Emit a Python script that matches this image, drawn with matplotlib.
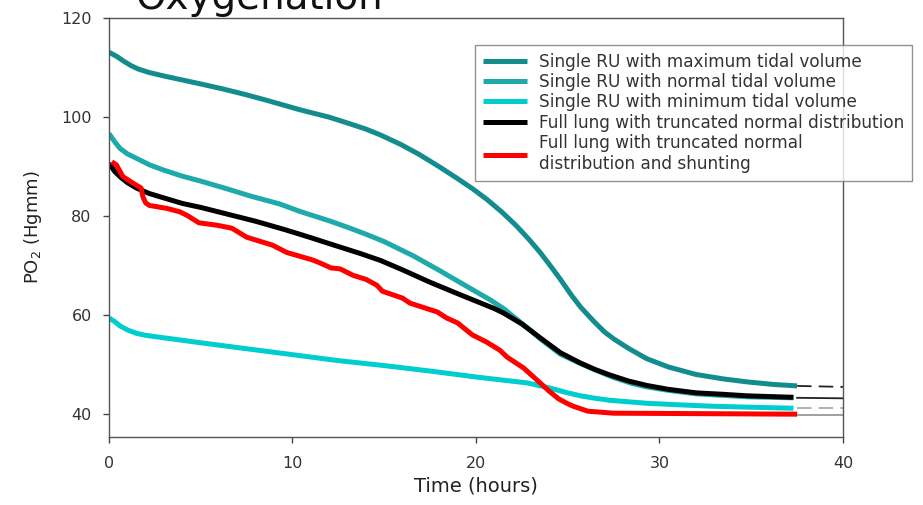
import matplotlib
matplotlib.use("Agg")
import matplotlib.pyplot as plt

# values (time in hours, PO2 in Hgmm)
max_x = [0.0, 0.4, 0.8, 1.2, 1.6, 2.2, 3.0, 4.0, 5.0, 6.2, 7.4, 8.6, 10.4, 12.0, 13.1,
         14.0, 14.8, 15.9, 16.9, 18.0, 19.0, 19.8, 20.6, 21.4, 22.2, 22.9, 23.5, 24.1,
         24.6, 25.2, 25.7, 26.4, 27.0, 27.5, 28.3, 29.3, 30.5, 32.0, 33.5, 34.8, 36.2,
         37.5]
max_y = [113.0, 112.2, 111.2, 110.3, 109.6, 108.9, 108.2, 107.4, 106.6, 105.6, 104.5,
         103.3, 101.4, 99.9, 98.6, 97.5, 96.3, 94.4, 92.4, 89.9, 87.5, 85.5, 83.3, 80.8,
         78.0, 75.2, 72.6, 69.7, 67.2, 64.0, 61.6, 58.8, 56.6, 55.2, 53.3, 51.2, 49.5,
         48.0, 47.1, 46.5, 46.0, 45.7]

norm_x = [0.0, 0.3, 0.6, 1.0, 1.5, 2.2, 3.0, 4.0, 5.0, 6.3, 7.7, 9.3, 10.4, 12.0, 13.0,
          14.0, 15.0, 16.6, 18.0, 19.3, 20.8, 21.5, 22.2, 23.0, 23.5, 24.6, 25.7, 26.5,
          27.5, 28.5, 29.3, 30.5, 32.0, 34.8, 37.3]
norm_y = [96.6, 95.0, 93.6, 92.5, 91.6, 90.3, 89.2, 88.0, 87.0, 85.6, 84.0, 82.4, 80.9,
          79.0, 77.7, 76.3, 74.8, 71.9, 69.0, 66.2, 63.0, 61.3, 59.2, 56.8, 55.2, 52.1,
          50.2, 48.9, 47.4, 46.2, 45.5, 44.8, 44.1, 43.5, 43.3]

min_x = [0.0, 0.3, 0.6, 1.0, 1.5, 2.0, 3.0, 5.0, 7.5, 10.0, 12.5, 15.0, 17.5, 20.0,
         22.8, 24.0, 25.0, 25.7, 26.5, 27.3, 29.3, 31.0, 32.9, 35.0, 37.3]
min_y = [59.4, 58.7, 57.8, 57.0, 56.3, 55.9, 55.4, 54.4, 53.2, 52.0, 50.8, 49.8, 48.7,
         47.5, 46.3, 45.3, 44.3, 43.7, 43.2, 42.8, 42.2, 41.9, 41.6, 41.4, 41.2]

full_x = [0.0, 0.3, 0.6, 1.0, 1.5, 2.2, 3.0, 4.0, 5.0, 6.5, 8.0, 9.6, 11.0, 12.0, 13.7,
          14.8, 16.0, 17.5, 19.0, 20.0, 21.0, 21.5, 22.5, 23.5, 24.6, 25.7, 26.5, 27.3,
          28.3, 29.3, 30.5, 32.0, 33.5, 34.8, 37.3]
full_y = [90.6, 89.0, 87.9, 86.7, 85.6, 84.5, 83.6, 82.5, 81.7, 80.3, 78.9, 77.2, 75.6,
          74.4, 72.4, 71.0, 69.1, 66.6, 64.3, 62.8, 61.3, 60.4, 58.2, 55.4, 52.4, 50.3,
          49.0, 47.9, 46.7, 45.8, 45.0, 44.3, 44.0, 43.7, 43.4]

shunt_x = [0.15, 0.4, 0.76, 1.31, 1.75, 1.85, 2.0, 2.2, 3.16, 3.87, 4.25, 4.9, 5.9, 6.7,
           7.5, 8.9, 9.7, 11.1, 11.5, 12.1, 12.6, 13.3, 14.0, 14.6, 14.9, 16.0, 16.4,
           17.9, 18.4, 19.0, 19.8, 20.6, 21.3, 21.7, 22.6, 23.5, 24.0, 24.5, 25.0, 25.3,
           25.7, 26.1, 27.5, 37.5]
shunt_y = [90.9, 90.3, 87.9, 86.6, 85.6, 83.8, 82.6, 82.1, 81.5, 80.8, 80.1, 78.6, 78.1,
           77.5, 75.7, 74.1, 72.6, 71.1, 70.5, 69.5, 69.3, 68.0, 67.2, 66.0, 64.8, 63.4,
           62.4, 60.6, 59.4, 58.4, 56.0, 54.5, 52.9, 51.5, 49.3, 46.3, 44.6, 43.1, 42.1,
           41.6, 41.1, 40.6, 40.2, 40.0]

# thin continuations after the thick curves end
ext_x = [37.5, 40.0]
ext_max = [45.7, 45.5]
ext_full = [43.3, 43.2]
ext_min = [41.3, 41.3]
ext_shunt = [39.9, 39.9]

labels = [
    "Single RU with maximum tidal volume",
    "Single RU with normal tidal volume",
    "Single RU with minimum tidal volume",
    "Full lung with truncated normal distribution",
    "Full lung with truncated normal\ndistribution and shunting",
]
colors = ["#138c8e", "#1eaaaa", "#00cdcd", "black", "#ff0000"]

fig = plt.figure(figsize=(9.23, 5.05), dpi=100)
ax = fig.add_axes([0.1181, 0.1337, 0.7952, 0.8316])

lw = 3.6
ax.plot(ext_x, ext_max, color="#222222", lw=1.3, ls=(0, (8, 4)))
ax.plot(ext_x, ext_full, color="#222222", lw=1.3)
ax.plot(ext_x, ext_min, color="#aaaaaa", lw=1.3, ls=(0, (8, 4)))
ax.plot(ext_x, ext_shunt, color="#999999", lw=1.3)

series = [(max_x, max_y), (norm_x, norm_y), (min_x, min_y), (full_x, full_y), (shunt_x, shunt_y)]
handles = []
for (xs, ys), c, lab in zip(series, colors, labels):
    h, = ax.plot(xs, ys, color=c, lw=lw, label=lab, solid_capstyle="butt",
                 solid_joinstyle="round")
    handles.append(h)

ax.set_xlim(0, 40)
ax.set_ylim(35.3, 120)
ax.set_xticks([0, 10, 20, 30, 40])
ax.set_yticks([40, 60, 80, 100, 120])
ax.tick_params(direction="out", length=4.5, width=1, colors="#444444",
               labelsize=11.5, labelcolor="#333333", top=False, right=False)
ax.tick_params(axis="x", pad=9)
ax.tick_params(axis="y", pad=8)
for s in ax.spines.values():
    s.set_color("#555555")
    s.set_linewidth(1)

ax.set_xlabel("Time (hours)", fontsize=14, color="#222222", labelpad=4)
ax.set_ylabel("PO$_2$ (Hgmm)", fontsize=13, color="#222222", labelpad=12)

fig.text(260 / 923, 1 - 9 / 505, "Oxygenation", fontsize=28, ha="center",
         va="baseline", color="#111111")

leg = fig.legend(handles=handles, loc="upper left",
                 bbox_to_anchor=(475 / 923, 1 - 45 / 505), bbox_transform=fig.transFigure,
                 borderaxespad=0, fontsize=12.2, frameon=True, fancybox=False,
                 handlelength=2.6, handletextpad=0.75, labelspacing=0.14, borderpad=0.45)
leg.get_frame().set_edgecolor("#777777")
leg.get_frame().set_linewidth(1)
for t in leg.get_texts():
    t.set_color("#333333")

fig.savefig("out.png", dpi=100)
plt.close(fig)
